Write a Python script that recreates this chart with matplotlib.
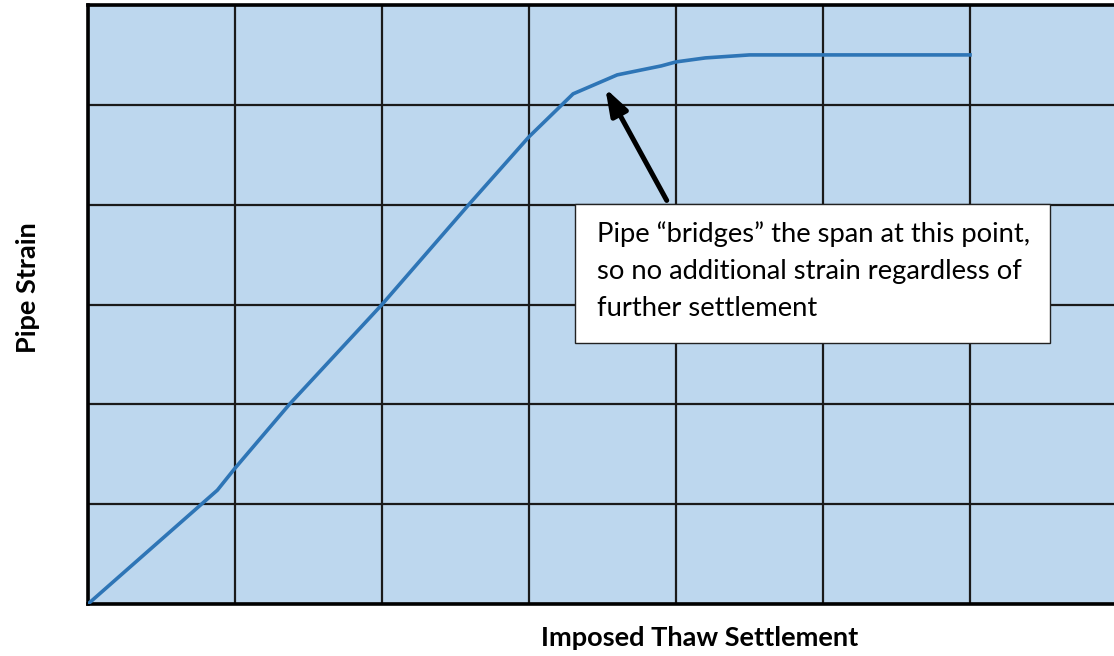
import matplotlib.pyplot as plt
from matplotlib.patches import Rectangle, FancyArrowPatch

# ---------------------- data ----------------------
settlement = [0, 0.88, 1.0, 1.37, 2.0, 2.59, 3.0, 3.3, 3.6, 3.9, 4.0, 4.2, 4.5, 6.0]
strain = [0, 1.14, 1.36, 2.0, 3.0, 4.0, 4.68, 5.11, 5.3, 5.39, 5.43, 5.47, 5.5, 5.5]

x_grid = list(range(8))
y_grid = list(range(7))

note = ("Pipe \u201cbridges\u201d the span at this point,\n"
        "so no additional strain regardless of\n"
        "further settlement")

# ---------------------- figure ----------------------
W, H = 1114, 656
fig = plt.figure(figsize=(W / 100, H / 100), dpi=100)
ax = fig.add_axes([88 / W, 52 / H, 1029 / W, 599 / H])
ax.set_facecolor("#BDD7EE")
ax.set_xlim(0, 7)
ax.set_ylim(0, 6)

ax.set_xticks(x_grid)
ax.set_yticks(y_grid)
ax.tick_params(length=0, labelbottom=False, labelleft=False)
ax.grid(True, color="#1a1a1a", linewidth=1.6)
for s in ax.spines.values():
    s.set_linewidth(2.6)
    s.set_color("black")

ax.plot(settlement, strain, color="#2E75B6", linewidth=2.6, zorder=3)

# annotation box
bx0, by0, bx1, by1 = 3.313, 2.615, 6.544, 4.008
ax.add_patch(Rectangle((bx0, by0), bx1 - bx0, by1 - by0, facecolor="white",
                       edgecolor="#222222", linewidth=1.0, zorder=4))
ax.text(3.463, (by0 + by1) / 2 + 0.02, note, ha="left", va="center", fontsize=19.7,
        family="Lato", linespacing=1.6, zorder=5)

arrow = FancyArrowPatch((3.946, 4.018), (3.51, 5.19),
                        arrowstyle="-|>,head_length=1.6,head_width=0.55",
                        mutation_scale=10, color="black", linewidth=3.6, zorder=5)
ax.add_patch(arrow)

fig.text(28 / W, 1 - 288 / H, "Pipe Strain", rotation=90, ha="center", va="center",
         fontsize=19.5, fontweight="bold", family="Lato")
fig.text(700 / W, 1 - 638 / H, "Imposed Thaw Settlement", ha="center", va="center",
         fontsize=19.5, fontweight="bold", family="Lato")

fig.savefig("out.png", dpi=100)
